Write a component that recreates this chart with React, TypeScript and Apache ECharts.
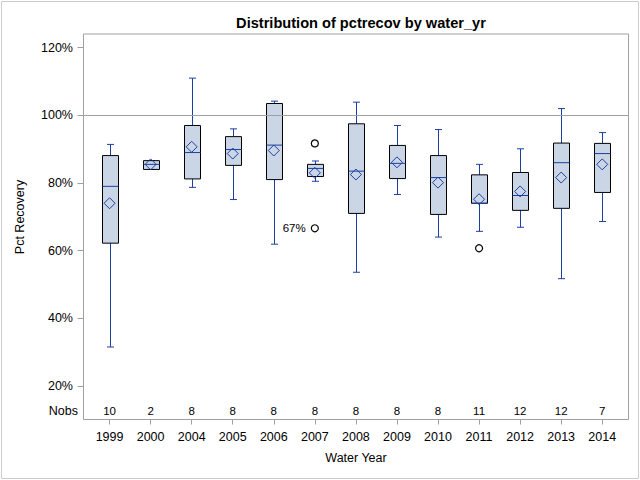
import React, { useEffect, useRef } from "react";
import * as echarts from "echarts";

const years = ["1999", "2000", "2004", "2005", "2006", "2007", "2008", "2009", "2010", "2011", "2012", "2013", "2014"];
const nobs = [10, 2, 8, 8, 8, 8, 8, 8, 8, 11, 12, 12, 7];
const whiskerLow = [31.5, 84.0, 78.7, 75.1, 61.9, 80.5, 53.6, 76.6, 64.0, 65.7, 66.9, 51.7, 68.6];
const q1 = [62.2, 84.0, 81.2, 85.2, 81.0, 81.9, 71.0, 81.3, 70.7, 74.0, 71.9, 72.5, 77.2];
const median = [79.0, 85.5, 89.0, 89.9, 91.2, 84.3, 83.5, 85.8, 81.6, 74.0, 76.3, 86.0, 88.7];
const q3 = [88.1, 86.6, 97.0, 93.7, 103.5, 85.5, 97.5, 91.1, 88.1, 82.4, 83.1, 91.8, 91.7];
const whiskerHigh = [91.4, 86.6, 111.0, 96.0, 104.2, 86.5, 103.9, 97.0, 95.8, 85.5, 90.1, 102.0, 94.9];
const means = [74.0, 85.5, 90.7, 88.7, 89.6, 83.0, 82.5, 86.1, 80.1, 75.2, 77.5, 81.6, 85.5];
const outlierIdx = [5, 5, 9];
const outlierVal = [91.7, 66.6, 60.7];
const outlierLabel = ["", "67%", ""];
const yTicks = [20, 40, 60, 80, 100, 120];
const refLine = 100;
const nobsRowValue = 12.5;

const BLUE = "#1D3FA3";
const FILL = "#CAD5E5";
const GRAY = "#A0A0A0";
const FONT = "'Liberation Sans', Arial, sans-serif";

export default function App() {
  const ref = useRef<HTMLDivElement>(null);
  useEffect(() => {
    if (!ref.current) return;
    const chart = echarts.init(ref.current, undefined, { renderer: "svg" });
    const idx = years.map((_, i) => i);
    const boxData = idx.map((i) => [i, whiskerLow[i], q1[i], median[i], q3[i], whiskerHigh[i]]);
    chart.setOption({
      animation: false,
      backgroundColor: "#fff",
      textStyle: { fontFamily: FONT },
      title: {
        text: "Distribution of pctrecov by water_yr",
        left: 356,
        textAlign: "center",
        top: 10,
        textStyle: { fontSize: 14.6, fontWeight: "bold", color: "#000", fontFamily: FONT },
      },
      grid: {
        left: 83.5,
        right: 11.5,
        top: 34,
        bottom: 60.5,
        show: true,
        borderColor: GRAY,
        borderWidth: 1,
        backgroundColor: "transparent",
      },
      xAxis: {
        type: "value",
        min: -0.635,
        max: 12.64,
        splitLine: { show: false },
        axisLine: { show: false, onZero: false },
        axisTick: { show: true, customValues: idx, length: 5, lineStyle: { color: GRAY } },
        axisLabel: {
          customValues: idx,
          formatter: (v: number) => years[Math.round(v)] ?? "",
          margin: 11,
          fontSize: 12.5,
          color: "#000",
          fontFamily: FONT,
        },
        name: "Water Year",
        nameLocation: "middle",
        nameGap: 32,
        nameTextStyle: { fontSize: 12.5, color: "#000", fontFamily: FONT },
      },
      yAxis: {
        type: "value",
        min: 10.06,
        max: 124.05,
        splitLine: { show: false },
        axisLine: { show: false, onZero: false },
        axisTick: { show: true, customValues: yTicks, length: 6, lineStyle: { color: GRAY } },
        axisLabel: {
          customValues: yTicks,
          formatter: (v: number) => `${v}%`,
          margin: 10.5,
          fontSize: 12.5,
          color: "#000",
          fontFamily: FONT,
        },
      },
      graphic: [
        {
          type: "rect",
          shape: { x: 1.5, y: 1.5, width: 637, height: 477 },
          style: { fill: "none", stroke: "#CCCCCC", lineWidth: 1 },
          silent: true,
        },
        {
          type: "text",
          x: 20,
          y: 217,
          rotation: Math.PI / 2,
          style: {
            text: "Pct Recovery",
            fontSize: 12.5,
            fontFamily: FONT,
            fill: "#000",
            align: "center",
            verticalAlign: "middle",
          },
        },
        {
          type: "text",
          x: 78,
          y: 411,
          style: {
            text: "Nobs",
            fontSize: 12.5,
            fontFamily: FONT,
            fill: "#000",
            align: "right",
            verticalAlign: "middle",
          },
        },
      ],
      series: [
        {
          type: "custom",
          data: boxData,
          encode: { x: 0, y: [1, 2, 3, 4, 5] },
          markLine: {
            silent: true,
            symbol: "none",
            label: { show: false },
            lineStyle: { color: GRAY, type: "solid", width: 1 },
            data: [{ yAxis: refLine }],
          },
          renderItem: (params: any, api: any) => {
            const i = api.value(0);
            const pLo = api.coord([i, api.value(1)]);
            const pQ1 = api.coord([i, api.value(2)]);
            const pMed = api.coord([i, api.value(3)]);
            const pQ3 = api.coord([i, api.value(4)]);
            const pHi = api.coord([i, api.value(5)]);
            const cx = Math.round(pLo[0]) + 0.5;
            const bw = 16;
            const cw = 7;
            const line = (x1: number, y1: number, x2: number, y2: number, color: string) => ({
              type: "line",
              shape: { x1, y1, x2, y2 },
              style: { stroke: color, lineWidth: 1 },
            });
            return {
              type: "group",
              children: [
                line(cx, pLo[1], cx, pQ1[1], BLUE),
                line(cx, pQ3[1], cx, pHi[1], BLUE),
                line(cx - cw / 2, pLo[1], cx + cw / 2, pLo[1], BLUE),
                line(cx - cw / 2, pHi[1], cx + cw / 2, pHi[1], BLUE),
                {
                  type: "rect",
                  shape: { x: cx - bw / 2, y: pQ3[1], width: bw, height: pQ1[1] - pQ3[1] },
                  style: { fill: FILL, stroke: "#000", lineWidth: 1 },
                },
                line(cx - bw / 2, pMed[1], cx + bw / 2, pMed[1], BLUE),
              ],
            };
          },
          z: 2,
        },
        {
          type: "scatter",
          data: idx.map((i) => [i, means[i]]),
          symbol: "diamond",
          symbolSize: [11, 11],
          itemStyle: { color: "rgba(0,0,0,0)", borderColor: BLUE, borderWidth: 1, opacity: 1 },
          z: 3,
        },
        {
          type: "scatter",
          data: outlierIdx.map((i, k) => ({ value: [i, outlierVal[k]], label: outlierLabel[k] })),
          symbol: "circle",
          symbolSize: 7,
          itemStyle: { color: "rgba(0,0,0,0)", borderColor: "#000", borderWidth: 1.2, opacity: 1 },
          label: {
            show: true,
            position: "left",
            distance: 5,
            formatter: (p: any) => p.data.label,
            fontSize: 11.5,
            color: "#000",
            fontFamily: FONT,
          },
          z: 3,
        },
        {
          type: "scatter",
          data: idx.map((i) => [i, nobsRowValue, nobs[i]]),
          symbolSize: 0,
          silent: true,
          itemStyle: { opacity: 1 },
          label: {
            show: true,
            position: "inside",
            formatter: (p: any) => String(p.data[2]),
            fontSize: 11.5,
            color: "#000",
            fontFamily: FONT,
          },
        },
      ],
    });
    return () => chart.dispose();
  }, []);
  return (
    <div
      ref={ref}
      style={{ position: "fixed", left: 0, top: 0, width: 640, height: 480 }}
    />
  );
}
